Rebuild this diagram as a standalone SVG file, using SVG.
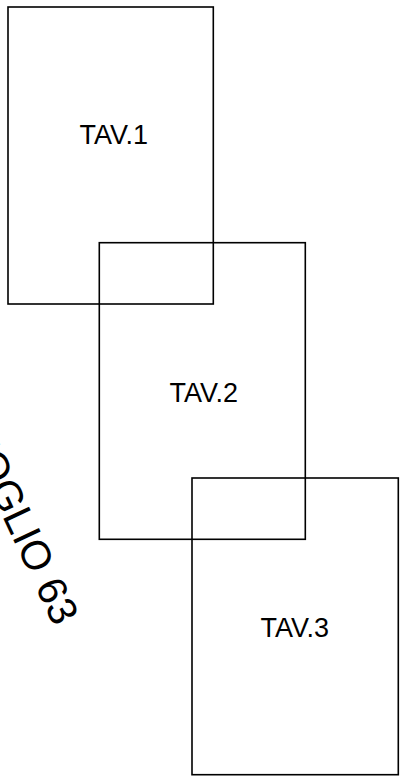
<svg xmlns="http://www.w3.org/2000/svg" width="406" height="779" viewBox="0 0 406 779">
<style>
.sheet{fill:none;stroke:#000;stroke-width:1.6}
.lbl{font-family:"Liberation Sans",Arial,sans-serif;font-size:27px;fill:#000}
.big{font-family:"Liberation Sans",Arial,sans-serif;font-size:41px;fill:#000}
</style>
<rect width="406" height="779" fill="#fff"/>
<g id="tav1"><rect class="sheet" x="8" y="7" width="205.3" height="297"/><text class="lbl" x="79.4" y="144">TAV.1</text></g>
<g id="tav2"><rect class="sheet" x="99.3" y="242.7" width="206" height="296.6"/><text class="lbl" x="169.4" y="401.5">TAV.2</text></g>
<g id="tav3"><rect class="sheet" x="192" y="478" width="206.3" height="296.7"/><text class="lbl" x="260.4" y="637">TAV.3</text></g>
<g id="foglio"><text class="big" transform="translate(23.3,561.3) rotate(65)" x="-139" y="0">FOGLIO 63</text></g>
<g id="connectors"></g>
</svg>
